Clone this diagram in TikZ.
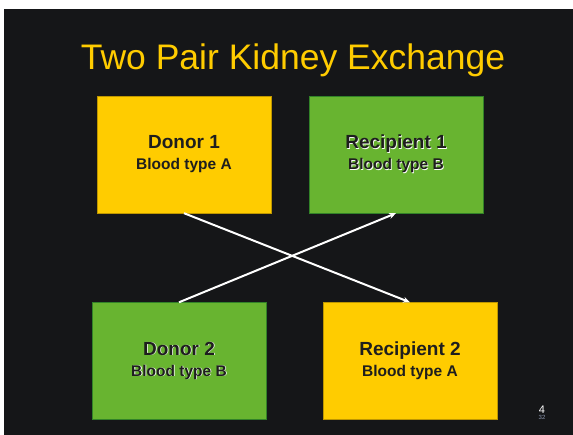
\documentclass[tikz,border=0pt]{standalone}
\usepackage{fontspec}
\setmainfont{Liberation Sans}
\usetikzlibrary{arrows.meta, positioning}
\usepackage{xcolor}
\definecolor{slidebg}{RGB}{21,22,24}
\definecolor{slideyellow}{RGB}{255,204,0}
\definecolor{yellowedge}{RGB}{190,150,0}
\definecolor{slidegreen}{RGB}{104,180,48}
\definecolor{greenedge}{RGB}{50,130,40}
\definecolor{boxtext}{RGB}{30,30,30}
\definecolor{subnum}{RGB}{140,150,175}
\newcommand{\embossed}[1]{\rlap{\kern0.8pt\raisebox{-0.8pt}{\textcolor{white}{#1}}}#1}
\tikzset{
  ybox/.style   = {draw=yellowedge, fill=slideyellow, minimum width=174pt,
                   minimum height=117pt, align=center, text=boxtext, inner sep=0pt,
                   font=\bfseries\fontsize{19}{21}\selectfont},
  gbox/.style   = {draw=greenedge, fill=slidegreen, minimum width=174pt,
                   minimum height=117pt, align=center, text=boxtext, inner sep=0pt,
                   font=\bfseries\fontsize{19}{21}\selectfont},
  arrow/.style  = {-{Stealth[length=7pt,width=6pt]}, line width=2pt, white},
}
\newcommand{\boxlabel}[2]{#1\\[0pt]{\fontsize{15.5}{18}\selectfont #2}}

\begin{document}
\begin{tikzpicture}[x=1pt, y=-1pt]

% slide background
\fill[white] (0,0) rectangle (573,435);
\fill[slidebg] (4,9) rectangle (573,435);
\useasboundingbox (0,0) rectangle (573,435);

% title
\node[text=slideyellow, font=\fontsize{35.5}{40}\selectfont] (title) at (293,60) {Two Pair Kidney Exchange};

% top row
\node[ybox] (d1) at (184,154.5) {\boxlabel{Donor 1}{Blood type A}};
\node[gbox] (r1) at (396,154.5) {\boxlabel{\embossed{Recipient 1}}{\embossed{Blood type B}}};

% bottom row
\node[gbox] (d2) at (179,361) {\boxlabel{\embossed{Donor 2}}{\embossed{Blood type B}}};
\node[ybox] (r2) at (410,361) {\boxlabel{Recipient 2}{Blood type A}};

% exchange
\draw[arrow] (d1.south) -- (r2.north);
\draw[arrow] (d2.north) -- (r1.south);

% slide number
\node[text=white, font=\fontsize{11}{13}\selectfont, inner sep=0pt] (pg) at (542,410) {4};
\node[text=subnum, font=\fontsize{6}{7}\selectfont, inner sep=0pt, below=1.5pt of pg] (pgsub) {32};

\end{tikzpicture}
\end{document}
